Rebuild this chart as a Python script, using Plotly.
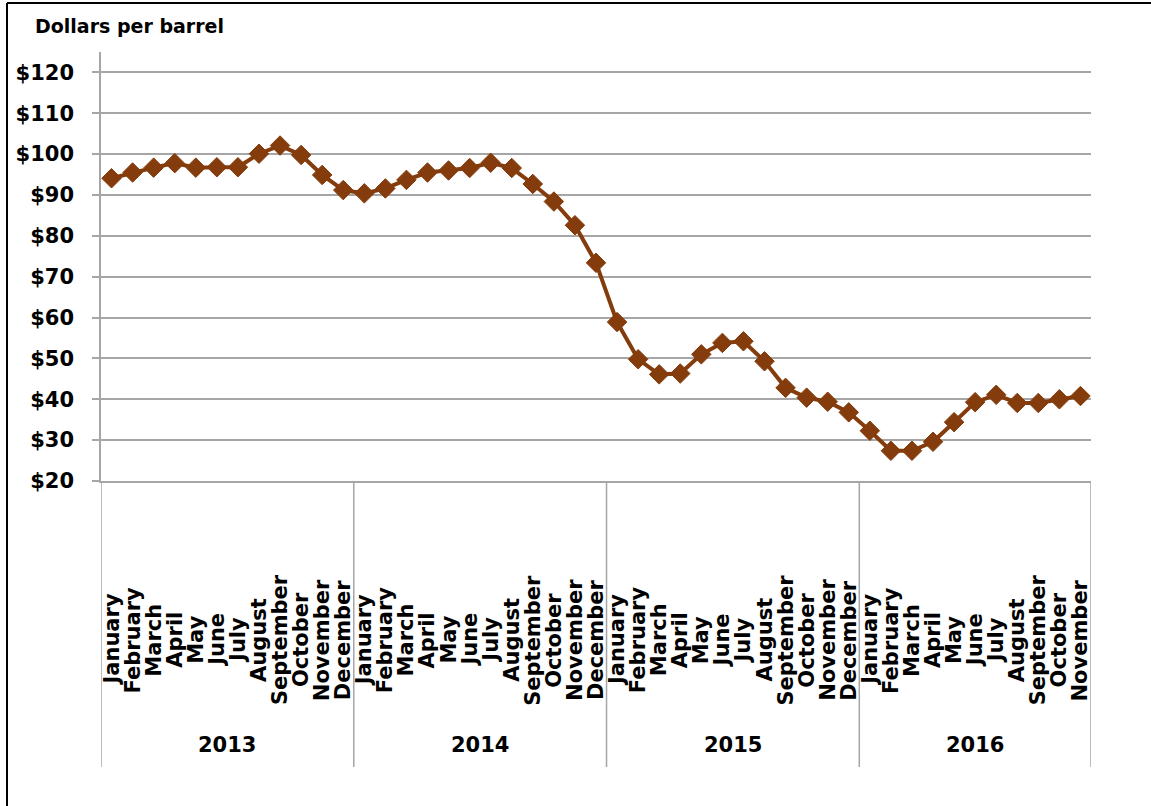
import plotly.graph_objects as go

years = ["2013", "2014", "2015", "2016"]
month_names = ["January", "February", "March", "April", "May", "June", "July",
               "August", "September", "October", "November", "December"]
months_per_year = [12, 12, 12, 11]

prices_2013 = [94.1, 95.5, 96.7, 97.8, 96.7, 96.8, 96.8, 100.1, 102.1, 99.8, 94.9, 91.2]
prices_2014 = [90.4, 91.6, 93.7, 95.5, 96.0, 96.6, 97.9, 96.6, 92.7, 88.4, 82.6, 73.4]
prices_2015 = [58.9, 49.8, 46.1, 46.3, 51.0, 53.8, 54.2, 49.3, 42.8, 40.4, 39.4, 36.8]
prices_2016 = [32.3, 27.4, 27.4, 29.6, 34.4, 39.3, 41.1, 39.1, 39.1, 40.0, 40.8]

y_ticks = [20, 30, 40, 50, 60, 70, 80, 90, 100, 110, 120]
y_tick_labels = ["$20", "$30", "$40", "$50", "$60", "$70", "$80", "$90", "$100", "$110", "$120"]

prices = prices_2013 + prices_2014 + prices_2015 + prices_2016
labels = []
for n in months_per_year:
    labels += month_names[:n]
xs = list(range(len(prices)))

FONT = "DejaVu Sans"
LINE = "#843C0C"
GRID = "#A6A6A6"

W, H = 1151, 806
L, R, T, B = 101, 60, 52, 325
ph = H - T - B
pw = W - L - R


def py(px):  # pixel y -> paper y
    return (H - B - px) / ph


def pxx(px):  # pixel x -> paper x
    return (px - L) / pw


fig = go.Figure()
fig.add_trace(go.Scatter(
    x=xs, y=prices, mode="lines+markers",
    line=dict(color=LINE, width=4),
    marker=dict(symbol="diamond", size=15, color=LINE, line=dict(color=LINE, width=1)),
    hoverinfo="y", showlegend=False,
))

annotations = []
for i, lab in enumerate(labels):
    annotations.append(dict(
        x=i, xref="x", y=py(640), yref="paper", text=lab, showarrow=False,
        textangle=-90, xanchor="center", yanchor="middle",
        font=dict(family=FONT, size=21, color="black", weight="bold"),
    ))

shapes = []
start = -0.5
bounds = [start]
for yr, n in zip(years, months_per_year):
    end = start + n
    annotations.append(dict(
        x=(start + end) / 2, xref="x", y=py(745), yref="paper", text=yr,
        showarrow=False, xanchor="center", yanchor="middle",
        font=dict(family=FONT, size=21, color="black", weight="bold"),
    ))
    start = end
    bounds.append(end)

for b in bounds:
    shapes.append(dict(type="line", xref="x", yref="paper", x0=b, x1=b,
                       y0=py(767), y1=0, line=dict(color=GRID, width=1.5)))

annotations.append(dict(
    x=pxx(33), xref="paper", y=py(26), yref="paper", text="Dollars per barrel",
    showarrow=False, xanchor="left", yanchor="middle",
    font=dict(family=FONT, size=19, color="black", weight="bold"),
))

# outer chart border (left and top)
shapes.append(dict(type="line", xref="paper", yref="paper", x0=pxx(7), x1=pxx(7),
                   y0=py(3), y1=py(806), line=dict(color="black", width=2)))
shapes.append(dict(type="line", xref="paper", yref="paper", x0=pxx(7), x1=pxx(1151),
                   y0=py(3), y1=py(3), line=dict(color="black", width=2)))

fig.update_layout(
    width=W, height=H,
    margin=dict(l=L, r=R, t=T, b=B, autoexpand=False),
    paper_bgcolor="white", plot_bgcolor="white",
    annotations=annotations, shapes=shapes,
    xaxis=dict(range=[-0.5, len(prices) - 0.5], showticklabels=False, showgrid=False,
               zeroline=False, showline=True, linecolor=GRID, linewidth=1.5, ticks="",
               automargin=False),
    yaxis=dict(range=[20, 125], tickmode="array", tickvals=y_ticks, ticktext=y_tick_labels,
               showgrid=True, gridcolor=GRID, gridwidth=1.5, zeroline=False,
               showline=True, linecolor=GRID, linewidth=1.5,
               ticks="outside", ticklen=7, tickcolor=GRID, tickwidth=1.5,
               ticklabelstandoff=14, automargin=False,
               tickfont=dict(family=FONT, size=21, color="black", weight="bold")),
)

fig.write_html("out.html", post_script="document.body.style.margin='0';",
               config={"displayModeBar": False})
